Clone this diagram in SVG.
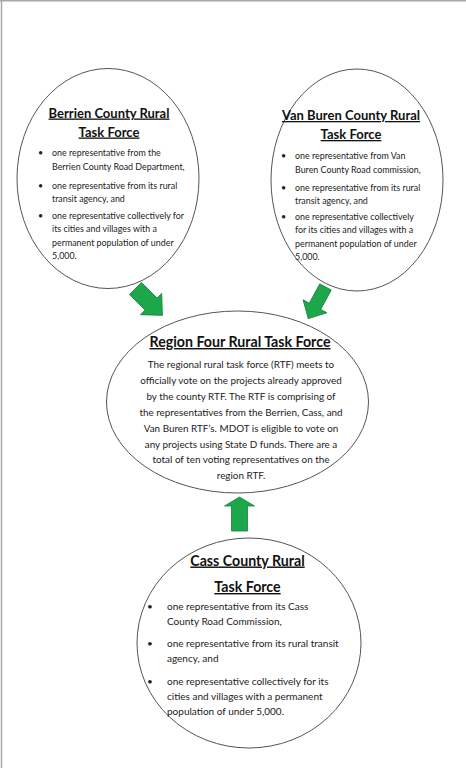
<svg xmlns="http://www.w3.org/2000/svg" width="466" height="768" viewBox="0 0 466 768">
<style>
.bg{fill:#fff}
.frame{stroke:#a8a8a8;stroke-width:1.5;fill:none}
.node{fill:#fff;stroke:#555;stroke-width:1}
.t1{font-family:Lato,"Liberation Sans",sans-serif;font-weight:bold;font-size:13px;fill:#111;text-decoration:underline}
.t2{font-family:Lato,"Liberation Sans",sans-serif;font-weight:bold;font-size:14.2px;fill:#111;text-decoration:underline}
.b{font-family:Lato,"Liberation Sans",sans-serif;font-size:8.9px;fill:#222}
.bc{font-family:Lato,"Liberation Sans",sans-serif;font-size:10px;fill:#222}
.r{font-family:Lato,"Liberation Sans",sans-serif;font-size:9.9px;fill:#222;text-anchor:middle}
.arrow{fill:#1ca84a;stroke:#13803a;stroke-width:0.8}
</style>
<rect class="bg" x="0" y="0" width="466" height="768"/>
<path class="frame" d="M0,0.75 H466 M1.5,0 V768"/>
<g id="connectors">
<polygon class="arrow" transform="translate(135.5,288.5) rotate(45)" points="0,-8.5 22,-8.5 22,-15 38,0 22,15 22,8.5 0,8.5"/>
<polygon class="arrow" transform="translate(325.5,287) rotate(118.6)" points="0,-6.5 22,-6.5 22,-13.5 36,0 22,13.5 22,6.5 0,6.5"/>
<polygon class="arrow" points="239.5,497 254.5,506 247.5,506 247.5,531 231.5,531 231.5,506 224.5,506"/>
</g>
<g id="berrien">
<ellipse class="node" cx="108" cy="178.5" rx="91" ry="110"/>
<text class="t1" x="109" y="117.5" text-anchor="middle">Berrien County Rural</text>
<text class="t1" x="109" y="136.5" text-anchor="middle">Task Force</text>
<g class="b">
<text x="38" y="156">•</text><text x="52" y="156">one representative from the</text>
<text x="52" y="170">Berrien County Road Department,</text>
<text x="38" y="189">•</text><text x="52" y="189">one representative from its rural</text>
<text x="52" y="202">transit agency, and</text>
<text x="38" y="219">•</text><text x="52" y="219">one representative collectively for</text>
<text x="52" y="232">its cities and villages with a</text>
<text x="52" y="246">permanent population of under</text>
<text x="52" y="259">5,000.</text>
</g>
</g>
<g id="vanburen">
<ellipse class="node" cx="357" cy="180" rx="86" ry="111"/>
<text class="t1" x="351" y="120" text-anchor="middle">Van Buren County Rural</text>
<text class="t1" x="351" y="139" text-anchor="middle">Task Force</text>
<g class="b">
<text x="281" y="159">•</text><text x="295" y="159">one representative from Van</text>
<text x="295" y="172.5">Buren County Road commission,</text>
<text x="281" y="191">•</text><text x="295" y="191">one representative from its rural</text>
<text x="295" y="204">transit agency, and</text>
<text x="281" y="220">•</text><text x="295" y="220">one representative collectively</text>
<text x="295" y="233">for its cities and villages with a</text>
<text x="295" y="246.5">permanent population of under</text>
<text x="295" y="260">5,000.</text>
</g>
</g>
<g id="region">
<ellipse class="node" cx="237.5" cy="402" rx="131" ry="91"/>
<text class="t2" x="240" y="347" text-anchor="middle">Region Four Rural Task Force</text>
<text class="r" x="241" y="368">The regional rural task force (RTF) meets to</text>
<text class="r" x="241" y="384">officially vote on the projects already approved</text>
<text class="r" x="241" y="400">by the county RTF.  The RTF is comprising of</text>
<text class="r" x="241" y="416">the representatives from the Berrien, Cass, and</text>
<text class="r" x="241" y="432">Van Buren RTF’s. MDOT is eligible to vote on</text>
<text class="r" x="241" y="447.5">any projects using State D funds. There are a</text>
<text class="r" x="241" y="463">total of ten voting representatives on the</text>
<text class="r" x="241" y="478.5">region RTF.</text>
</g>
<g id="cass">
<ellipse class="node" cx="249" cy="643" rx="112" ry="105"/>
<text class="t2" x="247.5" y="565.5" text-anchor="middle">Cass County Rural</text>
<text class="t2" x="247.5" y="592" text-anchor="middle">Task Force</text>
<g class="bc">
<text x="147" y="609.5">•</text><text x="167" y="609.5">one representative from its Cass</text>
<text x="167" y="624.5">County Road Commission,</text>
<text x="147" y="647">•</text><text x="167" y="647">one representative from its rural transit</text>
<text x="167" y="662">agency, and</text>
<text x="147" y="684.5">•</text><text x="167" y="684.5">one representative collectively for its</text>
<text x="167" y="699.5">cities and villages with a permanent</text>
<text x="167" y="714.5">population of under 5,000.</text>
</g>
</g>
</svg>
